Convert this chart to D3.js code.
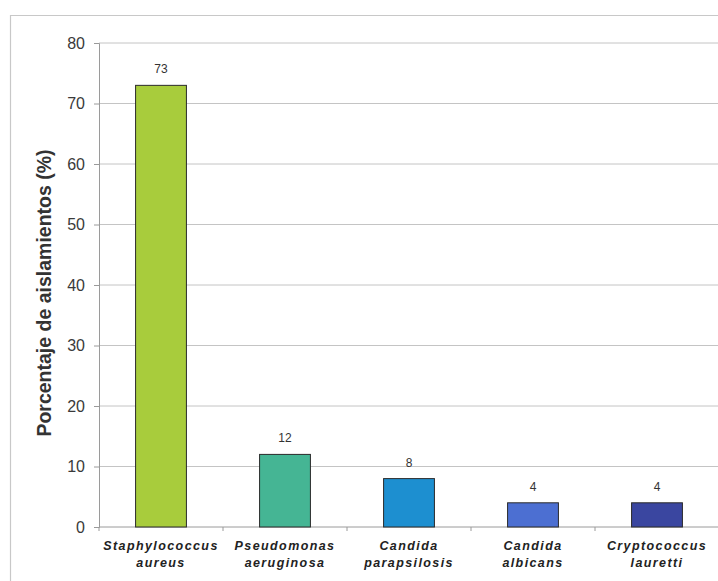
<!DOCTYPE html>
<html><head><meta charset="utf-8">
<script src="https://cdn.jsdelivr.net/npm/d3@7"></script>
<style>
body{margin:0;background:#fff;}
svg{display:block;font-family:"Liberation Sans",Arial,sans-serif;}
</style></head>
<body>
<svg id="c" width="718" height="581"></svg>
<script>
const categories = [["Staphylococcus","aureus"],["Pseudomonas","aeruginosa"],["Candida","parapsilosis"],["Candida","albicans"],["Cryptococcus","lauretti"]];
const values = [73, 12, 8, 4, 4];
const colors = ["#a8cc3c", "#45b594", "#1d8fd0", "#4c6fd2", "#3a46a0"];
const yTicks = [0, 10, 20, 30, 40, 50, 60, 70, 80];
const yTitle = "Porcentaje de aislamientos (%)";

const svg = d3.select("#c");
const L = 99, R = 719, T = 43, B = 527;

// outer frame
svg.append("path").attr("d", "M10.5,600 V15.5 H730").attr("fill","none").attr("stroke","#c8c8c8").attr("stroke-width",1.2);

const x = d3.scaleBand().domain(d3.range(values.length)).range([L, R]).paddingInner(0.59).paddingOuter(0.295);
const y = d3.scaleLinear().domain([0, 80]).range([B, T]);

// gridlines
svg.append("g").selectAll("line").data(yTicks.filter(d => d > 0)).join("line")
  .attr("x1", L).attr("x2", R).attr("y1", d => y(d)).attr("y2", d => y(d))
  .attr("stroke", "#c4c4c4").attr("stroke-width", 1);

// y axis
const ya = svg.append("g").attr("transform", `translate(${L},0)`)
  .call(d3.axisLeft(y).tickValues(yTicks).tickSize(5).tickPadding(9));
ya.select(".domain").attr("stroke", "#9a9a9a");
ya.selectAll(".tick line").attr("stroke", "#9a9a9a");
ya.selectAll("text").attr("font-size", 16).attr("fill", "#3a3a3a").attr("font-family", "Liberation Sans, Arial, sans-serif");

// x axis
const xa = svg.append("g").attr("transform", `translate(0,${B})`);
xa.append("line").attr("x1", L).attr("x2", R).attr("stroke", "#9a9a9a");
xa.selectAll("line.t").data(d3.range(values.length + 1)).join("line").attr("class","t")
  .attr("x1", i => L + i * x.step()).attr("x2", i => L + i * x.step()).attr("y1", 0).attr("y2", 4)
  .attr("stroke", "#9a9a9a");

// bars
svg.append("g").selectAll("rect").data(values).join("rect")
  .attr("x", (d, i) => x(i)).attr("width", x.bandwidth())
  .attr("y", d => y(d)).attr("height", d => y(0) - y(d))
  .attr("fill", (d, i) => colors[i]).attr("stroke", "#2a2a2a").attr("stroke-width", 1);

// value labels
svg.append("g").selectAll("text").data(values).join("text")
  .attr("x", (d, i) => x(i) + x.bandwidth() / 2).attr("y", d => y(d) - 12)
  .attr("text-anchor", "middle").attr("font-size", 12).attr("fill", "#333").text(d => d);

// category labels
const cl = svg.append("g").selectAll("text").data(categories).join("text")
  .attr("x", (d, i) => x(i) + x.bandwidth() / 2).attr("y", 550)
  .attr("text-anchor", "middle").attr("font-size", 12.5).attr("font-weight", "bold")
  .attr("font-style", "italic").attr("letter-spacing", 1.4).attr("fill", "#222");
cl.each(function(d, i) {
  const t = d3.select(this);
  d.forEach((s, k) => t.append("tspan").attr("x", x(i) + x.bandwidth() / 2).attr("dy", k ? 17 : 0).text(s));
});

// y title
svg.append("text").attr("transform", `translate(51,293) rotate(-90)`)
  .attr("text-anchor", "middle").attr("font-size", 19.5).attr("font-weight", "bold").attr("fill", "#333").text(yTitle);
</script>
</body></html>
